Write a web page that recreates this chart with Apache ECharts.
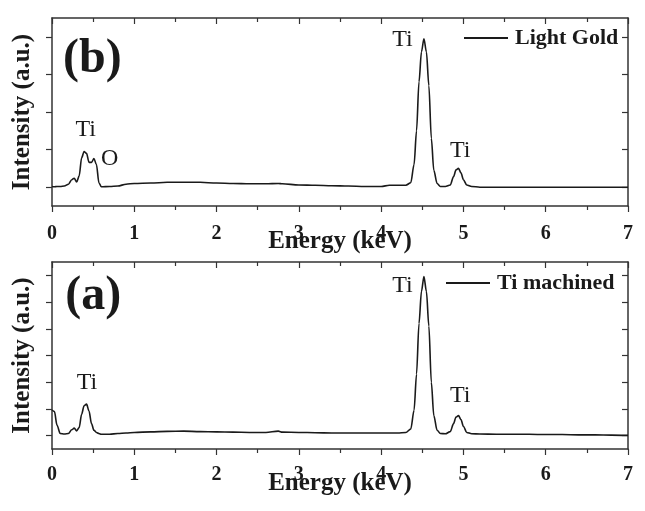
<!DOCTYPE html>
<html>
<head>
<meta charset="UTF-8">
<title>EDS spectra</title>
<script type="text/javascript" src="https://cdn.jsdelivr.net/npm/echarts@6.0.0/dist/echarts.min.js"></script>
<style>
  html, body { margin: 0; padding: 0; background: #fff; }
</style>
</head>
<body>
<div id="mychar" style="width:645px;height:511px;"></div>

<script type="text/javascript">
// energy (keV), shared by both spectra
var energy = [
  0, 0.03, 0.06, 0.1, 0.15, 0.2, 0.24, 0.27, 0.3, 0.33,
  0.36, 0.39, 0.42, 0.45, 0.48, 0.51, 0.54, 0.57, 0.6, 0.7,
  0.8, 0.9, 1.0, 1.2, 1.4, 1.6, 1.8, 2.0, 2.2, 2.4,
  2.6, 2.75, 2.8, 3.0, 3.2, 3.4, 3.6, 3.8, 4.0, 4.1,
  4.2, 4.3, 4.36, 4.4, 4.43, 4.46, 4.49, 4.52, 4.55, 4.58,
  4.61, 4.64, 4.68, 4.72, 4.78, 4.84, 4.88, 4.91, 4.94, 4.97,
  5.0, 5.04, 5.1, 5.2, 5.4, 5.6, 5.8, 6.0, 6.2, 6.4,
  6.6, 6.8, 7.0
];

// (b) Light Gold
var lightGold = [
  0.02, 0.01, 0.02, 0.02, 0.03, 0.08, 0.2, 0.24, 0.14, 0.3,
  0.78, 0.95, 0.9, 0.66, 0.66, 0.76, 0.6, 0.12, 0.01, 0.02,
  0.03, 0.08, 0.1, 0.11, 0.13, 0.13, 0.13, 0.11, 0.1, 0.09,
  0.09, 0.1, 0.09, 0.06, 0.05, 0.04, 0.03, 0.02, 0.02, 0.05,
  0.05, 0.05, 0.12, 0.6, 1.5, 2.8, 3.6, 3.95, 3.6, 2.7,
  1.3, 0.45, 0.1, 0.02, 0.02, 0.06, 0.28, 0.46, 0.5, 0.38,
  0.2, 0.06, 0.02, 0.0, 0.0, 0.0, 0.0, 0.0, 0.0, 0.0,
  0.0, 0.0, 0.0
];

// (a) Ti machined
var tiMachined = [
  0.96, 0.9, 0.4, 0.08, 0.06, 0.08, 0.22, 0.28, 0.18, 0.3,
  0.8, 1.12, 1.18, 0.92, 0.45, 0.2, 0.12, 0.08, 0.05, 0.05,
  0.08, 0.1, 0.12, 0.14, 0.16, 0.17, 0.15, 0.14, 0.13, 0.12,
  0.12, 0.17, 0.13, 0.12, 0.11, 0.1, 0.1, 0.1, 0.1, 0.1,
  0.1, 0.12, 0.25, 0.95, 2.3, 4.2, 5.4, 5.96, 5.4, 4.1,
  2.0, 0.75, 0.2, 0.08, 0.07, 0.15, 0.45, 0.7, 0.75, 0.6,
  0.35, 0.12, 0.07, 0.06, 0.05, 0.05, 0.05, 0.04, 0.04, 0.03,
  0.03, 0.02, 0.01
];

var yTicksB = [0, 1, 2, 3, 4];
var yTicksA = [0, 1, 2, 3, 4, 5, 6];

// peak labels: [panel, text, energy, intensity]
var peakLabels = [
  [0, 'Ti', 0.41, 1.52],
  [0, 'O', 0.7, 0.77],
  [0, 'Ti', 4.26, 3.92],
  [0, 'Ti', 4.96, 0.97],
  [1, 'Ti', 0.425, 2.0],
  [1, 'Ti', 4.26, 5.6],
  [1, 'Ti', 4.96, 1.5]
];
var panelLetters = [
  [0, '(b)', 0.49, 3.4],
  [1, '(a)', 0.5, 5.22]
];

var FONT = '"Liberation Serif", "Times New Roman", serif';
var INK = '#1a1a1a';

function pairs(ys) {
  return energy.map(function (e, i) { return [e, ys[i]]; });
}

function xAxes(gridIndex, labelMargin, nameGap) {
  var base = {
    type: 'value', gridIndex: gridIndex, min: 0, max: 7, interval: 1,
    splitLine: { show: false },
    axisLine: { show: true, onZero: false, lineStyle: { color: '#333', width: 1.5 } },
    minorTick: { show: true, splitNumber: 2, length: 4, lineStyle: { color: '#333', width: 1.2 } }
  };
  return [
    Object.assign({}, base, {
      position: 'bottom',
      axisTick: { show: true, inside: false, length: 6, lineStyle: { color: '#333', width: 1.2 } },
      axisLabel: { show: true, margin: labelMargin, fontFamily: FONT, fontWeight: 'bold', fontSize: 20, color: INK },
      name: 'Energy (keV)', nameLocation: 'middle', nameGap: nameGap, nameMoveOverlap: false,
      nameTextStyle: { fontFamily: FONT, fontWeight: 'bold', fontSize: 25, color: INK }
    }),
    Object.assign({}, base, {
      position: 'top',
      axisTick: { show: true, inside: true, length: 6, lineStyle: { color: '#333', width: 1.2 } },
      axisLabel: { show: false }
    })
  ];
}

function yAxes(gridIndex, max, ticks) {
  var base = {
    type: 'value', gridIndex: gridIndex, min: -0.5, max: max,
    splitLine: { show: false },
    axisLabel: { show: false },
    axisLine: { show: true, onZero: false, lineStyle: { color: '#333', width: 1.5 } }
  };
  return [
    Object.assign({}, base, {
      position: 'left',
      axisTick: { show: true, inside: false, length: 6, customValues: ticks, lineStyle: { color: '#333', width: 1.2 } },
      name: 'Intensity (a.u.)', nameLocation: 'middle', nameGap: 17, nameRotate: 90,
      nameTextStyle: { fontFamily: FONT, fontWeight: 'bold', fontSize: 25, color: INK }
    }),
    Object.assign({}, base, {
      position: 'right',
      axisTick: { show: true, inside: true, length: 6, customValues: ticks, lineStyle: { color: '#333', width: 1.2 } }
    })
  ];
}

function legendFor(name, left, top) {
  return {
    data: [name], left: left, top: top, icon: 'rect', itemWidth: 44, itemHeight: 2,
    itemGap: 0, padding: 0, selectedMode: false,
    textStyle: { fontFamily: FONT, fontWeight: 'bold', fontSize: 22, color: INK, padding: [0, 0, 0, 2] }
  };
}

var lineStyle = { color: INK, width: 1.6 };

var mychart = echarts.init(document.getElementById('mychar'));

var option = {
  animation: false,
  backgroundColor: '#fff',
  grid: [
    { left: 52, top: 18, width: 576, height: 188 },
    { left: 52, top: 262, width: 576, height: 187 }
  ],
  xAxis: xAxes(0, 18, 23).concat(xAxes(1, 16, 22)),
  yAxis: yAxes(0, 4.5, yTicksB).concat(yAxes(1, 6.5, yTicksA)),
  legend: [legendFor('Light Gold', 464, 27), legendFor('Ti machined', 446, 272)],
  series: [
    {
      name: 'Light Gold', type: 'line', xAxisIndex: 0, yAxisIndex: 0,
      data: pairs(lightGold), showSymbol: false, symbol: 'none',
      smooth: 0.3, smoothMonotone: 'x', color: INK, lineStyle: lineStyle
    },
    {
      name: 'Ti machined', type: 'line', xAxisIndex: 2, yAxisIndex: 2,
      data: pairs(tiMachined), showSymbol: false, symbol: 'none',
      smooth: 0.3, smoothMonotone: 'x', color: INK, lineStyle: lineStyle
    }
  ]
};

mychart.setOption(option);

// place the text labels through the axes of each panel
function toPixel(panel, x, y) {
  return mychart.convertToPixel({ xAxisIndex: panel * 2, yAxisIndex: panel * 2 }, [x, y]);
}

var texts = [];
peakLabels.forEach(function (p) {
  var pt = toPixel(p[0], p[2], p[3]);
  texts.push({
    type: 'text', x: pt[0], y: pt[1], silent: true,
    style: { text: p[1], fontFamily: FONT, fontSize: 24, fill: INK, align: 'center', verticalAlign: 'middle' }
  });
});
panelLetters.forEach(function (p) {
  var pt = toPixel(p[0], p[2], p[3]);
  texts.push({
    type: 'text', x: pt[0], y: pt[1], silent: true,
    style: { text: p[1], fontFamily: FONT, fontSize: 48, fontWeight: 'bold', fill: INK, align: 'center', verticalAlign: 'middle' }
  });
});

mychart.setOption({ graphic: texts });
</script>
</body>
</html>
